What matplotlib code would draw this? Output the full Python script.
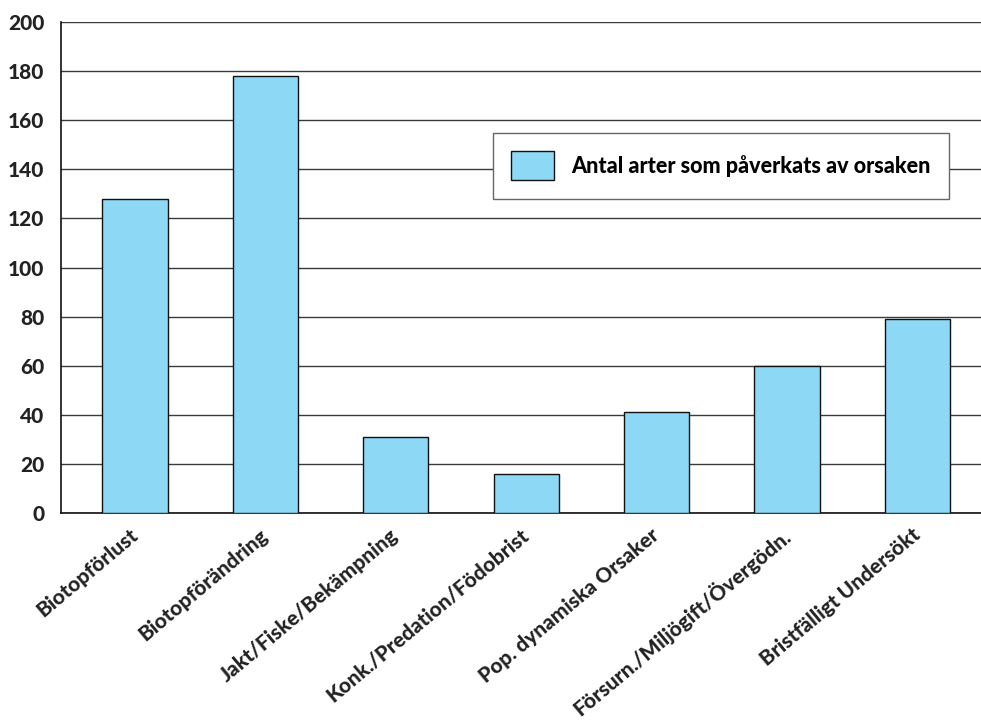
import matplotlib
matplotlib.use("Agg")
import matplotlib.pyplot as plt

categories = [
    "Biotopförlust",
    "Biotopförändring",
    "Jakt/Fiske/Bekämpning",
    "Konk./Predation/Födobrist",
    "Pop. dynamiska Orsaker",
    "Försurn./Miljögift/Övergödn.",
    "Bristfälligt Undersökt",
]
antal_arter = [128, 178, 31, 16, 41, 60, 79]
y_ticks = list(range(0, 201, 20))
series_label = "Antal arter som påverkats av orsaken"

plt.rcParams["font.family"] = ["Lato", "DejaVu Sans"]

fig = plt.figure(figsize=(9.81, 7.2), dpi=100)
ax = fig.add_axes([61 / 981, 1 - 513 / 720, 920 / 981, 491 / 720])

x = range(len(categories))
bars = ax.bar(x, antal_arter, width=0.5, color="#8dd8f5",
              edgecolor="#111111", linewidth=1.0, zorder=3,
              label=series_label)

ax.set_xlim(-0.567, 6.487)
ax.set_ylim(0, 200)
ax.set_yticks(y_ticks)
ax.set_yticklabels([str(v) for v in y_ticks], fontsize=15, fontweight="black",
                   color="#222222")
ax.yaxis.grid(True, color="#3a3a3a", linewidth=1.0, zorder=0)
ax.tick_params(axis="y", length=0, pad=12)

ax.set_xticks(list(x))
ax.set_xticklabels(categories, rotation=40, ha="right", va="center",
                   rotation_mode="anchor", fontsize=15, fontweight="black",
                   color="#222222")
ax.tick_params(axis="x", length=0, pad=14)

for side in ("top", "right"):
    ax.spines[side].set_visible(False)
for side in ("left", "bottom"):
    ax.spines[side].set_color("#111111")
    ax.spines[side].set_linewidth(1.2)

leg = fig.legend(handles=[bars], labels=[series_label],
                 loc="upper left",
                 bbox_to_anchor=(493 / 981, 1 - 133 / 720),
                 frameon=True, fancybox=False, shadow=False,
                 prop={"family": ["Lato", "DejaVu Sans"], "weight": "black",
                       "size": 15.5},
                 handlelength=2.0, handleheight=1.7, handletextpad=0.8,
                 borderpad=0.85, borderaxespad=0)
leg.get_frame().set_edgecolor("#666666")
leg.get_frame().set_linewidth(1.0)
leg.get_frame().set_alpha(1.0)

fig.savefig("out.png", dpi=100, facecolor="white")
